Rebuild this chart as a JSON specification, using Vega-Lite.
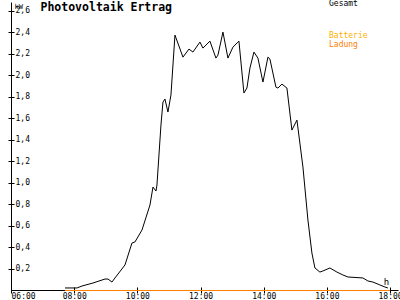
{
  "$schema": "https://vega.github.io/schema/vega-lite/v6.json",
  "width": 387,
  "height": 288,
  "autosize": {"type": "none"},
  "padding": {"left": 11, "top": 2, "right": 2, "bottom": 10},
  "background": "white",
  "config": {
    "view": {"stroke": null},
    "font": "DejaVu Sans Mono",
    "axis": {
      "grid": false,
      "domainColor": "#000000",
      "tickColor": "#000000",
      "labelColor": "#000000",
      "titleColor": "#000000",
      "labelFont": "DejaVu Sans Mono",
      "labelFontSize": 8,
      "titleFont": "DejaVu Sans Mono",
      "titleFontSize": 8,
      "titleFontWeight": "normal",
      "zindex": 0
    },
    "legend": {"labelFont": "DejaVu Sans Mono", "labelFontSize": 8}
  },
  "datasets": {
    "gesamt": [
      {"stunde": 7.709, "kw": 0.019, "serie": "Gesamt"},
      {"stunde": 8.089, "kw": 0.019, "serie": "Gesamt"},
      {"stunde": 8.247, "kw": 0.037, "serie": "Gesamt"},
      {"stunde": 8.595, "kw": 0.065, "serie": "Gesamt"},
      {"stunde": 8.975, "kw": 0.102, "serie": "Gesamt"},
      {"stunde": 9.070, "kw": 0.102, "serie": "Gesamt"},
      {"stunde": 9.196, "kw": 0.074, "serie": "Gesamt"},
      {"stunde": 9.291, "kw": 0.112, "serie": "Gesamt"},
      {"stunde": 9.608, "kw": 0.233, "serie": "Gesamt"},
      {"stunde": 9.829, "kw": 0.437, "serie": "Gesamt"},
      {"stunde": 9.924, "kw": 0.447, "serie": "Gesamt"},
      {"stunde": 10.146, "kw": 0.558, "serie": "Gesamt"},
      {"stunde": 10.399, "kw": 0.791, "serie": "Gesamt"},
      {"stunde": 10.494, "kw": 0.958, "serie": "Gesamt"},
      {"stunde": 10.589, "kw": 0.921, "serie": "Gesamt"},
      {"stunde": 10.620, "kw": 0.977, "serie": "Gesamt"},
      {"stunde": 10.747, "kw": 1.535, "serie": "Gesamt"},
      {"stunde": 10.810, "kw": 1.749, "serie": "Gesamt"},
      {"stunde": 10.873, "kw": 1.777, "serie": "Gesamt"},
      {"stunde": 10.968, "kw": 1.656, "serie": "Gesamt"},
      {"stunde": 11.063, "kw": 1.814, "serie": "Gesamt"},
      {"stunde": 11.190, "kw": 2.372, "serie": "Gesamt"},
      {"stunde": 11.443, "kw": 2.167, "serie": "Gesamt"},
      {"stunde": 11.633, "kw": 2.242, "serie": "Gesamt"},
      {"stunde": 11.759, "kw": 2.214, "serie": "Gesamt"},
      {"stunde": 11.981, "kw": 2.307, "serie": "Gesamt"},
      {"stunde": 12.076, "kw": 2.251, "serie": "Gesamt"},
      {"stunde": 12.297, "kw": 2.316, "serie": "Gesamt"},
      {"stunde": 12.487, "kw": 2.158, "serie": "Gesamt"},
      {"stunde": 12.551, "kw": 2.186, "serie": "Gesamt"},
      {"stunde": 12.709, "kw": 2.400, "serie": "Gesamt"},
      {"stunde": 12.867, "kw": 2.158, "serie": "Gesamt"},
      {"stunde": 13.025, "kw": 2.260, "serie": "Gesamt"},
      {"stunde": 13.184, "kw": 2.307, "serie": "Gesamt"},
      {"stunde": 13.215, "kw": 2.316, "serie": "Gesamt"},
      {"stunde": 13.373, "kw": 1.833, "serie": "Gesamt"},
      {"stunde": 13.468, "kw": 1.879, "serie": "Gesamt"},
      {"stunde": 13.563, "kw": 2.065, "serie": "Gesamt"},
      {"stunde": 13.690, "kw": 2.214, "serie": "Gesamt"},
      {"stunde": 13.816, "kw": 2.158, "serie": "Gesamt"},
      {"stunde": 13.975, "kw": 1.935, "serie": "Gesamt"},
      {"stunde": 14.133, "kw": 2.167, "serie": "Gesamt"},
      {"stunde": 14.196, "kw": 2.149, "serie": "Gesamt"},
      {"stunde": 14.386, "kw": 1.888, "serie": "Gesamt"},
      {"stunde": 14.449, "kw": 1.879, "serie": "Gesamt"},
      {"stunde": 14.576, "kw": 1.916, "serie": "Gesamt"},
      {"stunde": 14.734, "kw": 1.879, "serie": "Gesamt"},
      {"stunde": 14.892, "kw": 1.488, "serie": "Gesamt"},
      {"stunde": 15.051, "kw": 1.581, "serie": "Gesamt"},
      {"stunde": 15.241, "kw": 1.144, "serie": "Gesamt"},
      {"stunde": 15.399, "kw": 0.651, "serie": "Gesamt"},
      {"stunde": 15.525, "kw": 0.344, "serie": "Gesamt"},
      {"stunde": 15.620, "kw": 0.205, "serie": "Gesamt"},
      {"stunde": 15.778, "kw": 0.167, "serie": "Gesamt"},
      {"stunde": 15.873, "kw": 0.177, "serie": "Gesamt"},
      {"stunde": 16.095, "kw": 0.205, "serie": "Gesamt"},
      {"stunde": 16.316, "kw": 0.167, "serie": "Gesamt"},
      {"stunde": 16.506, "kw": 0.140, "serie": "Gesamt"},
      {"stunde": 16.665, "kw": 0.121, "serie": "Gesamt"},
      {"stunde": 17.139, "kw": 0.112, "serie": "Gesamt"},
      {"stunde": 17.297, "kw": 0.084, "serie": "Gesamt"},
      {"stunde": 17.456, "kw": 0.074, "serie": "Gesamt"},
      {"stunde": 17.677, "kw": 0.047, "serie": "Gesamt"},
      {"stunde": 17.835, "kw": 0.028, "serie": "Gesamt"},
      {"stunde": 17.930, "kw": 0.019, "serie": "Gesamt"}
    ],
    "ladung": [
      {"stunde": 7.709, "kw": 0, "serie": "Ladung"},
      {"stunde": 18.0, "kw": 0, "serie": "Ladung"}
    ]
  },
  "layer": [
    {
      "data": {"name": "gesamt"},
      "mark": {"type": "line", "strokeWidth": 1, "interpolate": "linear"},
      "encoding": {
        "x": {
          "field": "stunde", "type": "quantitative",
          "scale": {"domain": [6, 18.25], "nice": false, "zero": false},
          "axis": {
            "orient": "bottom",
            "zindex": 0,
            "values": [6, 8, 10, 12, 14, 16, 18],
            "tickSize": 3,
            "labelPadding": -1,
            "labelBaseline": "top",
            "labelFlush": false,
            "labelOverlap": false,
            "labelExpr": "(datum.value < 10 ? '0' : '') + datum.value + ':00'",
            "labelAlign": {"condition": {"test": "datum.value == 6", "value": "left"}, "value": "center"},
            "title": "h",
            "titleX": 375,
            "titleY": -6,
            "titleAlign": "center",
            "titleBaseline": "alphabetic",
            "titleFontSize": 9
          }
        },
        "y": {
          "field": "kw", "type": "quantitative",
          "scale": {"domain": [0, 2.68], "nice": false},
          "axis": {
            "orient": "left",
            "zindex": 0,
            "values": [0.2, 0.4, 0.6, 0.8, 1.0, 1.2, 1.4, 1.6, 1.8, 2.0, 2.2, 2.4, 2.6],
            "tickSize": 3,
            "labels": false,
            "title": "kW",
            "titleAngle": 0,
            "titleX": 3,
            "titleY": 0,
            "titleAlign": "left",
            "titleBaseline": "top",
            "titleFontSize": 7
          }
        },
        "color": {
          "field": "serie", "type": "nominal",
          "scale": {"domain": ["Gesamt"], "range": ["#000000"]},
          "legend": {
            "orient": "none", "legendX": 310, "legendY": -2, "title": null,
            "symbolSize": 0, "symbolOpacity": 0, "symbolStrokeWidth": 0,
            "labelOffset": 0, "padding": 0, "labelColor": "#000000"
          }
        }
      }
    },
    {
      "data": {"name": "ladung"},
      "mark": {"type": "line", "strokeWidth": 1, "yOffset": 0.5},
      "encoding": {
        "x": {
          "field": "stunde", "type": "quantitative",
          "scale": {"domain": [6, 18.25], "nice": false, "zero": false},
          "axis": {
            "orient": "top", "offset": -288, "zindex": 0,
            "values": [6, 8, 10, 12, 14, 16, 18],
            "tickSize": 3, "labels": false, "domain": false,
            "title": "Photovoltaik Ertrag",
            "titleX": 29,
            "titleY": -280,
            "titleAlign": "left",
            "titleBaseline": "alphabetic",
            "titleFont": "DejaVu Sans Mono",
            "titleFontSize": 11.5,
            "titleFontWeight": "bold",
            "titleColor": "#000000"
          }
        },
        "y": {
          "field": "kw", "type": "quantitative",
          "scale": {"domain": [0, 2.68], "nice": false},
          "axis": {
            "orient": "right", "offset": -387, "zindex": 0,
            "values": [0.2, 0.4, 0.6, 0.8, 1.0, 1.2, 1.4, 1.6, 1.8, 2.0, 2.2, 2.4, 2.6],
            "tickSize": 3, "labelPadding": 1, "domain": false, "title": null,
            "labelAlign": "left", "labelBaseline": "middle",
            "labelExpr": "replace(format(datum.value, '.1f'), '.', ',')"
          }
        },
        "stroke": {
          "field": "serie", "type": "nominal",
          "scale": {"domain": ["Batterie", "Ladung"], "range": ["#ffb000", "#ff8000"]},
          "legend": {
            "orient": "none", "legendX": 310, "legendY": 30, "title": null,
            "symbolSize": 0, "symbolOpacity": 0, "symbolStrokeWidth": 0,
            "labelOffset": 0, "padding": 0, "rowPadding": 1,
            "encode": {"labels": {"update": {"fill": {"signal": "datum.value === 'Batterie' ? '#ffb000' : '#ff8000'"}}}}
          }
        }
      }
    }
  ],
  "resolve": {
    "scale": {"x": "independent", "y": "independent"},
    "axis": {"x": "independent", "y": "independent"}
  }
}
